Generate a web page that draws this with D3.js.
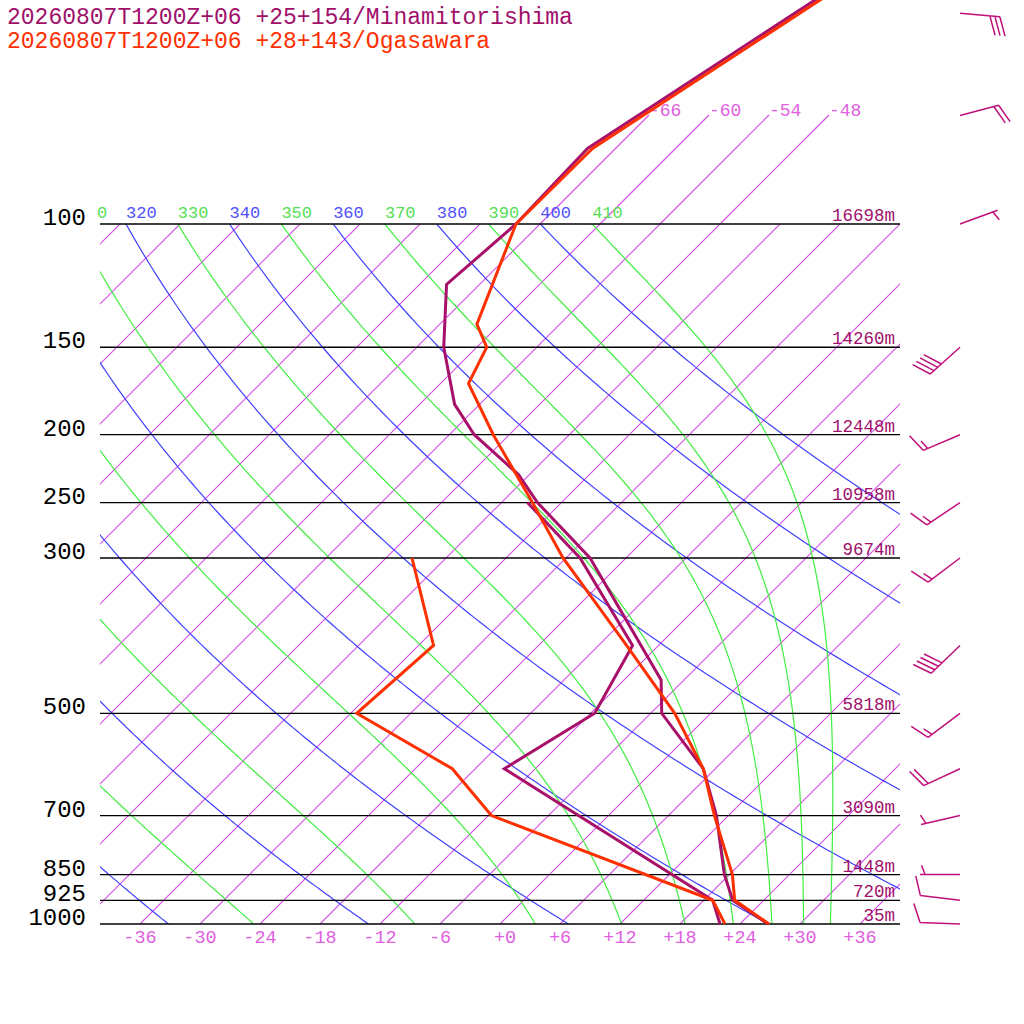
<!DOCTYPE html>
<html><head><meta charset="utf-8">
<script src="https://cdn.jsdelivr.net/npm/d3@7"></script>
<style>body{margin:0;background:#fff}svg{display:block}text{font-family:"Liberation Mono","DejaVu Sans Mono",monospace}</style>
</head><body><svg id="c" width="1024" height="1024"></svg>
<script>
const titles = ["20260807T1200Z+06 +25+154/Minamitorishima","20260807T1200Z+06 +28+143/Ogasawara"];
const pLevels = [100,150,200,250,300,500,700,850,925,1000];
const heights = ["16698m","14260m","12448m","10958m","9674m","5818m","3090m","1448m","720m","35m"];
const tempTicks = [-36,-30,-24,-18,-12,-6,0,6,12,18,24,30,36];
const isoTemps = d3.range(-108,37,6);
const isoTopLabels = [-66,-60,-54,-48];
const dryThetas = [240,260,280,300,320,340,360,380,400];
const moistThetas = [250,270,290,310,330,350,370,390,410];
// Minamitorishima
const mP  = [45,78,100,122,150,181,200,228,250,300,448,500,600,700,850,925,1000];
const mT  = [-59.9,-68.8,-68.4,-69.3,-63.3,-56.5,-51.5,-43.1,-38.4,-27.6,-8.3,-4.9,4.8,10.8,17.5,20.9,26.8];
const mDP = [250,300,400,500,600,925,1000];
const mTd = [-39.4,-28.6,-14.6,-11.6,-15.1,18.9,22.0];
// Ogasawara
const oP  = [45,78,100,139,150,169,200,250,300,400,500,600,700,850,925,1000];
const oT  = [-59.4,-68.3,-68.4,-62.3,-59.0,-57.2,-49.6,-38.9,-30.3,-15.2,-3.6,4.8,10.6,18.3,21.1,26.9];
const oDP = [300,400,500,600,700,925,1000];
const oTd = [-45.4,-34.5,-35.4,-20.3,-11.7,18.9,22.5];
// wind barbs
const windP = [50,70,100,150,200,250,300,400,500,600,700,850,925,1000];
const windDir = [95,75,70,228,247,236,233,226,233,245,257,270,277,272];
const windSpd = [30,20,5,40,15,15,15,40,15,20,5,5,10,10];

const svg = d3.select("#c");
const X0=100,X1=900,Ybot=924,Ytop=224;
const y = d3.scaleLog().domain([1000,100]).range([Ybot,Ytop]);
const tx = d3.scaleLinear().domain([-50,50]).range([0,1000]);
const xp = (T,p) => tx(T) + (Ybot - y(p));
const line = d3.line().x(d=>d[0]).y(d=>d[1]);
const ISO = "rgb(215,75,230)";

svg.append("defs").append("clipPath").attr("id","plot").append("rect")
  .attr("x",X0).attr("y",Ytop).attr("width",X1-X0).attr("height",Ybot-Ytop);

const g = svg.append("g").attr("clip-path","url(#plot)");
isoTemps.forEach(T=>{
  g.append("path").attr("d",line([[xp(T,1000),y(1000)],[xp(T,100),y(100)]]))
   .style("stroke",ISO).style("stroke-width",1.1).style("fill","none");
});
const pTopIso = Math.pow(10, 2 + (115-224)/700);
isoTopLabels.forEach(T=>{
  const x2 = xp(T,pTopIso), yy=y(pTopIso);
  svg.append("path").attr("d",line([[xp(T,100),y(100)],[x2,yy]]))
    .style("stroke",ISO).style("stroke-width",1.1).style("fill","none");
  svg.append("text").attr("x",x2).attr("y",116).text(T).attr("font-size",18).attr("fill","#e060e0");
});
const pts = d3.range(1000,99,-5);
dryThetas.forEach(th=>{
  const d = pts.map(p=>[xp(th*Math.pow(p/1000,0.2857)-273.15,p), y(p)]);
  g.append("path").attr("d",line(d)).style("stroke","#4040ff").style("fill","none").style("stroke-width",1.2);
});
function es(Tc){return 6.112*Math.exp(17.67*Tc/(Tc+243.5));}
function dTdp(T,p){const Rd=287.04,cp=1005.7,Lv=2.501e6,eps=0.622;
  const e=es(T-273.15), rs=eps*e/(p-e);
  return (1/p)*(Rd*T+Lv*rs)/(cp+Lv*Lv*rs*eps/(Rd*T*T));}
function moist(th){let T=th*Math.pow(0.1,0.2857), p=100; const out=[[T,p]]; const h=1;
  while(p<1000){const k1=dTdp(T,p),k2=dTdp(T+k1*h/2,p+h/2),k3=dTdp(T+k2*h/2,p+h/2),k4=dTdp(T+k3*h,p+h);
    T+=h*(k1+2*k2+2*k3+k4)/6; p+=h; if(p%5===0) out.push([T,p]);}
  return out;}
moistThetas.forEach(th=>{
  const d = moist(th).map(([T,p])=>[xp(T-273.15,p),y(p)]);
  g.append("path").attr("d",line(d)).style("stroke","#40ee40").style("fill","none").style("stroke-width",1.2);
});
const cw = 10.2;
dryThetas.concat(moistThetas).forEach(th=>{
  let x = xp(th*Math.pow(0.1,0.2857)-273.15,100), s = String(th);
  while(s.length && x < X0-6){ s = s.slice(1); x += cw; }
  if(!s.length || x > X1) return;
  svg.append("text").attr("x",Math.max(x,97)).attr("y",218)
    .attr("font-size",17).attr("fill",dryThetas.includes(th)?"#5050ff":"#55e055").text(s);
});
pLevels.forEach((p,i)=>{
  svg.append("line").attr("x1",X0).attr("x2",X1).attr("y1",y(p)).attr("y2",y(p)).style("stroke","#000").style("stroke-width",1.3);
  svg.append("text").attr("x",86).attr("y",y(p)+1).attr("text-anchor","end").attr("font-size",24)
    .attr("font-family","DejaVu Sans Mono").attr("fill","#000").text(p);
  svg.append("text").attr("x",895).attr("y",y(p)-3).attr("text-anchor","end").attr("font-size",17.5)
    .attr("fill","#a0106a").text(heights[i]);
});
tempTicks.forEach(T=>{
  svg.append("text").attr("x",tx(T)+(T===0?5:0)).attr("y",943).attr("text-anchor","middle").attr("font-size",18.5)
    .attr("fill","#e060e0").text(T>=0?"+"+T:T);
});
function prof(P,T,col){
  svg.append("path").attr("d",line(P.map((p,i)=>[xp(T[i],p),y(p)]))).style("fill","none")
    .style("stroke",col).style("stroke-width",3);
}
prof(mP,mT,"#a8106a"); prof(mDP,mTd,"#a8106a");
prof(oP,oT,"#ff3000"); prof(oDP,oTd,"#ff3000");
svg.append("text").attr("x",7).attr("y",24).attr("font-size",23).attr("fill","#a0106a").text(titles[0]);
svg.append("text").attr("x",7).attr("y",48).attr("font-size",23).attr("fill","#ff3000").text(titles[1]);
windP.forEach((p,i)=>{
  const ax=960, ay=y(p), r=Math.PI/180, d=windDir[i]*r;
  const u=[Math.sin(d),-Math.cos(d)], L=40;
  const ex=ax+L*u[0], ey=ay+L*u[1];
  let path=`M${ax},${ay}L${ex},${ey}`;
  const b=[Math.sin(d+70*r),-Math.cos(d+70*r)];
  let s=windSpd[i], k=0;
  if(s<10){const px=ex-5*u[0], py=ey-5*u[1]; path+=`M${px},${py}l${10*b[0]},${10*b[1]}`;}
  while(s>=10){const px=ex-k*5*u[0], py=ey-k*5*u[1]; path+=`M${px},${py}l${20*b[0]},${20*b[1]}`; s-=10; k++;}
  if(s>=5 && windSpd[i]>=10){const px=ex-k*5*u[0], py=ey-k*5*u[1]; path+=`M${px},${py}l${10*b[0]},${10*b[1]}`;}
  svg.append("path").attr("d",path).style("stroke","#c0107a").style("stroke-width",1.5).style("fill","none");
});
</script></body></html>
